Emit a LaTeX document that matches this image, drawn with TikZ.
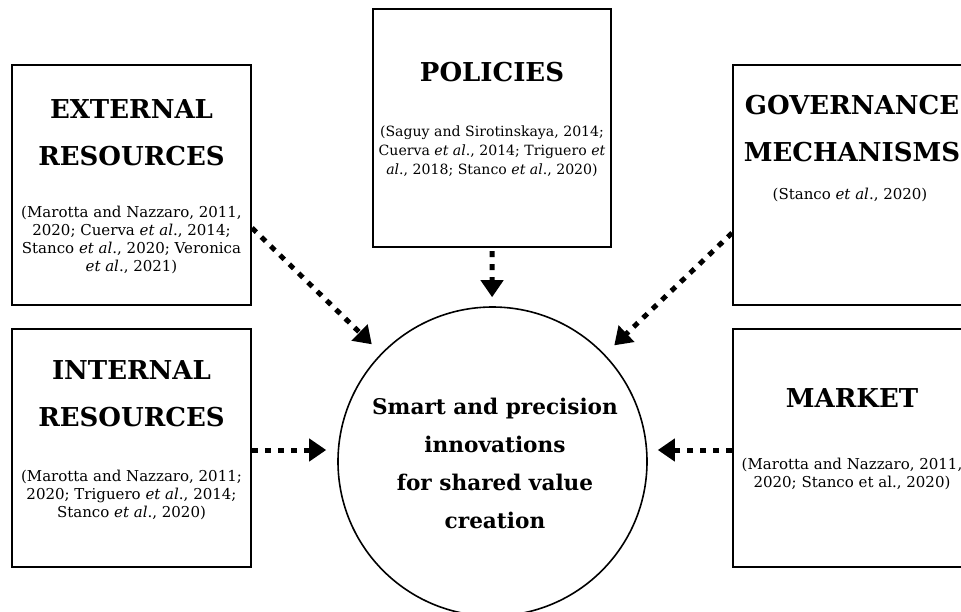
\documentclass[tikz,border=0pt]{standalone}
\usepackage{fontspec}
\setmainfont{DejaVu Serif}
\usetikzlibrary{arrows.meta,calc}

\begin{document}
\begin{tikzpicture}[x=1pt,y=-1pt,
  factor/.style={draw=black,line width=2pt,minimum width=239pt,minimum height=240pt,inner sep=0pt},
  heading/.style={align=center,inner sep=0pt,font=\fontsize{26}{47}\selectfont\bfseries},
  cite/.style={align=center,inner sep=0pt,font=\fontsize{15}{18.3}\selectfont},
  tightcite/.style={cite,font=\fontsize{14.1}{19}\selectfont},
  hubnode/.style={circle,draw=black,line width=1.6pt,minimum size=309pt,inner sep=0pt},
  hubtext/.style={align=center,inner sep=0pt,font=\fontsize{21.6}{38}\selectfont\bfseries},
  flow/.style={line width=5pt,dash pattern=on 6pt off 7pt,
    -{Triangle[width=22pt,length=17pt]}}
]
\useasboundingbox (0,0) rectangle (961,611);

% central circle
\node[hubnode] (hub) at (492.5,461.5) {};
\node[hubtext] (hubt) at (495,463.5) {Smart and precision\\innovations\\for shared value\\creation};

% surrounding factor boxes
\node[factor] (ext) at (131.5,185) {};
\node[heading] (extt) at (131.5,132.5) {EXTERNAL\\RESOURCES};
\node[cite] (extc) at (131.5,240) {(Marotta and Nazzaro, 2011,\\2020; Cuerva \textit{et al}., 2014;\\Stanco \textit{et al}., 2020; Veronica\\\textit{et al}., 2021)};

\node[factor,minimum height=238pt,minimum width=238pt] (pol) at (492,128) {};
\node[heading] (polt) at (492,72) {POLICIES};
\node[tightcite] (polc) at (492,151) {(Saguy and Sirotinskaya, 2014;\\Cuerva \textit{et al}., 2014; Triguero \textit{et}\\\textit{al}., 2018; Stanco \textit{et al}., 2020)};

\node[factor] (gov) at (852.5,185) {};
\node[heading] (govt) at (852,129) {GOVERNANCE\\MECHANISMS};
\node[cite] (govc) at (850,195) {(Stanco \textit{et al}., 2020)};

\node[factor,minimum height=238pt] (int) at (131.5,448) {};
\node[heading] (intt) at (131.5,393.5) {INTERNAL\\RESOURCES};
\node[cite] (intc) at (131.5,495) {(Marotta and Nazzaro, 2011;\\2020; Triguero \textit{et al}., 2014;\\Stanco \textit{et al}., 2020)};

\node[factor,minimum height=238pt] (mkt) at (852.5,448) {};
\node[heading] (mktt) at (852,398) {MARKET};
\node[cite] (mktc) at (852,474) {(Marotta and Nazzaro, 2011,\\2020; Stanco et al., 2020)};

% dotted influence arrows
\draw[flow,shorten >=13pt] ([yshift=-43pt]ext.east) -- (hub);
\draw[flow,shorten >=13pt] ([yshift=-48pt]gov.west) -- (hub);
\draw[flow,shorten <=3pt,shorten >=9pt] (pol.south) -- (hub);
\draw[flow,shorten >=11pt] ([yshift=-2pt]int.east) -- ([yshift=-2pt]int.east -| hub.west);
\draw[flow,shorten >=10pt] ([yshift=-2pt]mkt.west) -- ([yshift=-2pt]mkt.west -| hub.east);
\end{tikzpicture}
\end{document}
